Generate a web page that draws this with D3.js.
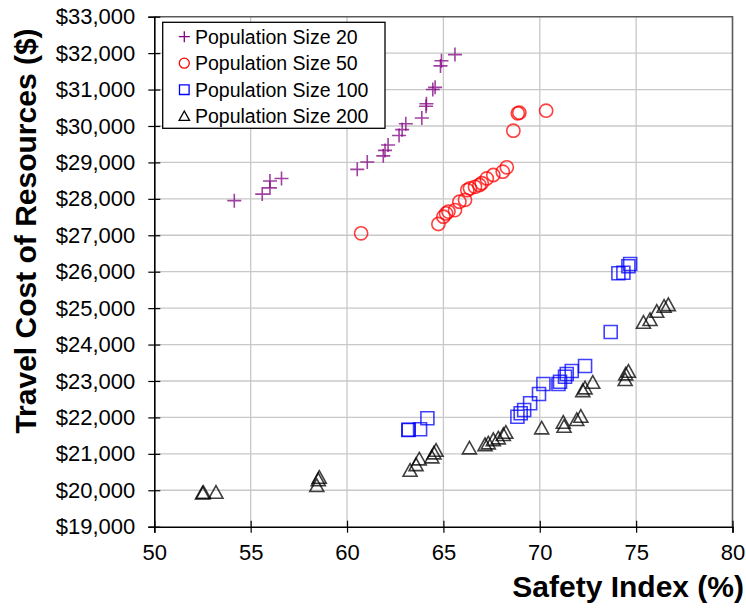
<!DOCTYPE html>
<html>
<head>
<meta charset="utf-8">
<script src="https://cdn.jsdelivr.net/npm/d3@7"></script>
<style>
  html, body { margin: 0; padding: 0; background: #fff; }
  svg { display: block; font-family: "Liberation Sans", Arial, sans-serif; }
</style>
</head>
<body>
<svg id="chart" width="746" height="609"></svg>
<script>
// Safety index (%) vs. travel cost ($) for each population size
const pop20 = [
  [54.15, 27950], [55.6, 28130], [56.0, 28300], [56.0, 28490], [56.6, 28560],
  [60.53, 28810], [61.05, 29010], [61.88, 29180], [61.97, 29330], [62.13, 29480],
  [62.7, 29740], [62.86, 29900], [63.05, 30060], [63.88, 30220], [64.1, 30540],
  [64.12, 30610], [64.45, 31000], [64.57, 31060], [64.85, 31650], [64.9, 31790],
  [65.6, 31960]
];
const pop50 = [
  [60.73, 27054], [64.74, 27310], [65.0, 27510], [65.14, 27600], [65.26, 27650],
  [65.6, 27690], [65.83, 27920], [66.12, 27970], [66.24, 28240], [66.38, 28290],
  [66.64, 28330], [66.87, 28380], [66.99, 28430], [67.25, 28560], [67.59, 28655],
  [68.08, 28745], [68.29, 28866], [68.63, 29870], [68.86, 30348], [68.94, 30365],
  [70.33, 30420]
];
const pop100 = [
  [63.18, 21655], [63.2, 21660], [63.79, 21674], [64.17, 21976], [68.84, 22020],
  [69.01, 22113], [69.19, 22204], [69.5, 22388], [69.96, 22643], [70.19, 22918],
  [70.97, 22918], [71.05, 22981], [71.31, 23118], [71.4, 23192], [71.66, 23275],
  [72.35, 23410], [73.68, 24345], [74.08, 25956], [74.34, 25973], [74.6, 26150],
  [74.69, 26212]
];
const pop200 = [
  [52.5, 19917], [52.55, 19930], [53.2, 19934], [58.43, 20118], [58.51, 20282],
  [58.56, 20345], [63.27, 20537], [63.58, 20694], [63.75, 20850], [64.4, 20905],
  [64.51, 21015], [64.62, 21087], [66.35, 21152], [67.16, 21243], [67.33, 21290],
  [67.59, 21380], [67.85, 21427], [68.11, 21518], [68.24, 21581], [70.1, 21701],
  [71.22, 21856], [71.26, 21746], [71.92, 21930], [72.13, 22020], [72.23, 22725],
  [72.35, 22800], [72.75, 22953], [74.43, 23028], [74.46, 23184], [74.6, 23256],
  [75.38, 24600], [75.72, 24675], [76.07, 24902], [76.45, 25040], [76.67, 25086]
];
const seriesNames = ["Population Size 20", "Population Size 50", "Population Size 100", "Population Size 200"];
const xTicks = [50, 55, 60, 65, 70, 75, 80];
const yTicks = [19000, 20000, 21000, 22000, 23000, 24000, 25000, 26000, 27000, 28000, 29000, 30000, 31000, 32000, 33000];

const svg = d3.select("#chart");
const L = 154.3, R = 732.5, T = 16.7, B = 526.7;

const x = d3.scaleLinear().domain([50, 80]).range([L, R]);
const y = d3.scaleLinear().domain([19000, 33000]).range([B, T]);

// gridlines
const grid = svg.append("g").attr("stroke", "#c8c8c8").attr("stroke-width", 1.3);
grid.selectAll("line.v").data(xTicks.slice(1, -1)).join("line")
  .attr("x1", d => x(d)).attr("x2", d => x(d)).attr("y1", T).attr("y2", B);
grid.selectAll("line.h").data(yTicks.slice(1, -1)).join("line")
  .attr("x1", L).attr("x2", R).attr("y1", d => y(d)).attr("y2", d => y(d));

// top and right frame
svg.append("path")
  .attr("d", `M${L},${T}H${R}V${B}`)
  .attr("fill", "none").attr("stroke", "#5a5a5a").attr("stroke-width", 1.6);

// axes with ticks crossing the axis line
const fmt = d => "$" + d3.format(",")(d);
const yAxis = svg.append("g").attr("transform", `translate(${L},0)`)
  .call(d3.axisLeft(y).tickValues(yTicks).tickFormat(fmt).tickSize(6).tickPadding(13));
yAxis.selectAll(".tick line").attr("x1", 6);
const xAxis = svg.append("g").attr("transform", `translate(0,${B})`)
  .call(d3.axisBottom(x).tickValues(xTicks).tickSize(6).tickPadding(12));
xAxis.selectAll(".tick line").attr("y1", -6);
[xAxis, yAxis].forEach(a => {
  a.select(".domain").attr("stroke", "#000").attr("stroke-width", 1.6);
  a.selectAll(".tick line").attr("stroke", "#000").attr("stroke-width", 1.2);
  a.selectAll("text").attr("font-size", 22).attr("fill", "#000")
    .attr("font-family", "'Liberation Sans', Arial, sans-serif");
});

// axis titles
svg.append("text")
  .attr("x", 744).attr("y", 597).attr("text-anchor", "end")
  .attr("font-size", 30).attr("font-weight", "bold").text("Safety Index (%)");
svg.append("text")
  .attr("transform", "translate(36,231) rotate(-90)").attr("text-anchor", "middle")
  .attr("font-size", 30).attr("font-weight", "bold").text("Travel Cost of Resources ($)");

// marker shapes
const shapes = {
  plus: s => `M${-s},0H${s}M0,${-s}V${s}`,
  circle: s => `M${s},0A${s},${s} 0 1,1 ${-s},0A${s},${s} 0 1,1 ${s},0Z`,
  square: s => `M${-s},${-s}H${s}V${s}H${-s}Z`,
  triangle: s => `M0,${-s}L${s},${s * 0.8}H${-s}Z`
};
const styles = [
  { data: pop20, shape: "plus", color: "#800080", size: 7, legendSize: 5.5 },
  { data: pop50, shape: "circle", color: "#ff0000", size: 6.6, legendSize: 5 },
  { data: pop100, shape: "square", color: "#0000ff", size: 6.5, legendSize: 4.8 },
  { data: pop200, shape: "triangle", color: "#000000", size: 7, legendSize: 5.2 }
];

const plot = svg.append("g");
styles.forEach(st => {
  plot.append("g").selectAll("path").data(st.data).join("path")
    .attr("transform", d => `translate(${x(d[0])},${y(d[1])})`)
    .attr("d", shapes[st.shape](st.size))
    .attr("fill", "none").attr("stroke", st.color)
    .attr("stroke-width", 1.6).attr("stroke-opacity", 0.75);
});

// legend
const lg = svg.append("g");
lg.append("rect").attr("x", 162.7).attr("y", 22.3).attr("width", 222.3).attr("height", 106)
  .attr("fill", "#fff").attr("stroke", "#000").attr("stroke-width", 1.3);
styles.forEach((st, i) => {
  const cy = 36.7 + i * 26.5;
  lg.append("path")
    .attr("transform", `translate(184.3,${cy})`)
    .attr("d", shapes[st.shape](st.legendSize))
    .attr("fill", "none").attr("stroke", st.color).attr("stroke-width", 1.3);
  lg.append("text").attr("x", 195).attr("y", cy + 7)
    .attr("font-size", 19.5).attr("fill", "#000").text(seriesNames[i]);
});
</script>
</body>
</html>
